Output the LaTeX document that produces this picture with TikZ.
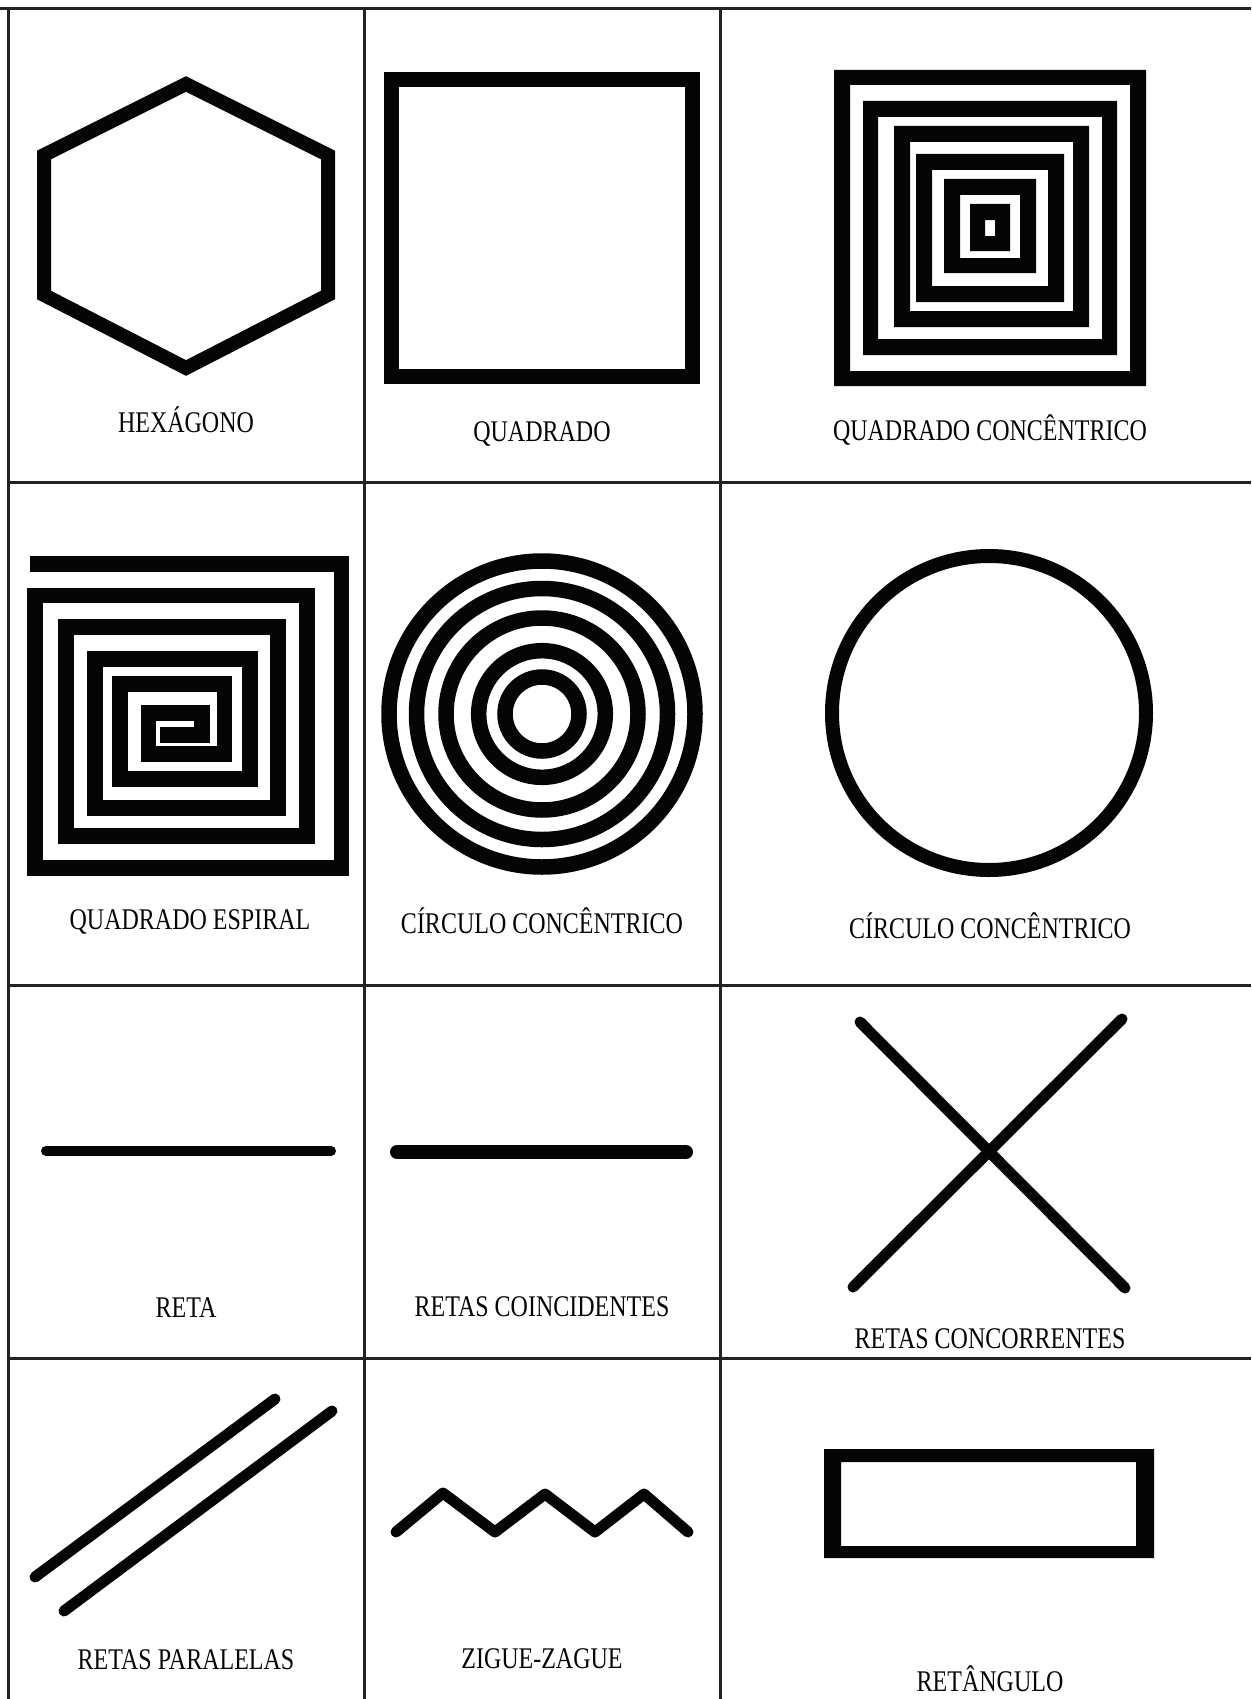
\documentclass[tikz,border=0pt]{standalone}
\usepackage{fontspec}
\setmainfont{Liberation Serif}[FakeStretch=0.8]
\usepackage{tikz}
\usetikzlibrary{positioning}
\definecolor{gfInk}{HTML}{050505}
\definecolor{gfRule}{HTML}{232323}
\tikzset{
  gf canvas/.style={fill=white},
  gf rule/.style={draw=gfRule, line width=3pt},
  gf shape/.style={draw=gfInk, line width=15pt, line join=miter},
  gf ring/.style={draw=gfInk, line width=15.5pt},
  gf line/.style={draw=gfInk, line width=11pt, line cap=round, line join=round},
  gf band/.style={fill=gfInk, even odd rule},
  gf label/.style={font=\fontsize{30}{32}\selectfont, text=gfInk, anchor=base, inner sep=0pt}
}

\begin{document}
\begin{tikzpicture}[x=1pt,y=-1pt]
  \path[gf canvas] (0,0) rectangle (1251,1699);
  \useasboundingbox (0,0) rectangle (1251,1699);

  % table rules
  \draw[gf rule] (0,9) -- (1251,9);
  \foreach \yy in {482,985,1358}
    \draw[gf rule] (8,\yy) -- (1251,\yy);
  \foreach \xx in {8,364,720}
    \draw[gf rule] (\xx,9) -- (\xx,1699);

  % row 1
  \draw[gf shape, line width=14pt] (186,84) -- (328,155) -- (328,295)
    -- (186,368) -- (44,295) -- (44,155) -- cycle;
  \node[gf label] (hexLbl) at (186,432) {HEXÁGONO};

  \draw[gf shape] (391,80) rectangle (692,376);
  \node[gf label] (sqLbl) at (542,441) {QUADRADO};

  \foreach \xa/\ya/\xb/\yb/\xc/\yc/\xd/\yd in {
      834/70/1146/386/850/85/1130/371,
      863/101/1117/355/878/117/1102/339,
      894/126/1089/327/910/142/1073/311,
      916/154/1064/302/932/170/1048/286,
      944/179/1036/273/960/195/1020/258,
      970/204/1010/251/985/220/995/236}
    \fill[gf band] (\xa,\ya) rectangle (\xb,\yb) (\xc,\yc) rectangle (\xd,\yd);
  \node[gf label] (sqConcLbl) at (990,440) {QUADRADO CONCÊNTRICO};

  % row 2
  \draw[gf shape, line width=15.5pt] (30,564) -- (341.5,564) -- (341.5,868)
    -- (35,868) -- (35,595.5) -- (307,595.5) -- (307,836) -- (66,836)
    -- (66,627) -- (278,627) -- (278,808) -- (95,808) -- (95,659)
    -- (250,659) -- (250,779) -- (120,779) -- (120,684) -- (224.5,684)
    -- (224.5,754) -- (148.5,754) -- (148.5,713) -- (202,713)
    -- (202,735) -- (160,735);
  \node[gf label] (spiralLbl) at (190,929) {QUADRADO ESPIRAL};

  \coordinate (ccMid) at (542,714);
  \foreach \rr in {153,125.5,96,63.3,37}
    \draw[gf ring] (ccMid) circle[radius=\rr];
  \node[gf label] (ccLbl) at (542,933) {CÍRCULO CONCÊNTRICO};

  \coordinate (cMid) at (989,713);
  \draw[gf ring, line width=14pt] (cMid) circle[radius=157];
  \node[gf label] (cLbl) at (990,938) {CÍRCULO CONCÊNTRICO};

  % row 3
  \draw[gf line, line width=10pt] (46,1151) -- (331,1151);
  \node[gf label] (retaLbl) at (186,1317) {RETA};

  \draw[gf line, line width=14pt] (397,1152) -- (686,1152);
  \node[gf label] (coincLbl) at (542,1316) {RETAS COINCIDENTES};

  \draw[gf line] (860,1022) -- (1125,1288);
  \draw[gf line] (1122,1019) -- (853,1287);
  \node[gf label] (concLbl) at (990,1348) {RETAS CONCORRENTES};

  % row 4
  \draw[gf line] (35,1577) -- (275,1399);
  \draw[gf line] (64,1611) -- (332,1411);
  \node[gf label] (parLbl) at (186,1669) {RETAS PARALELAS};

  \draw[gf line] (396,1532) -- (443,1493) -- (495,1532) -- (545,1494)
    -- (595,1532) -- (644,1494) -- (688,1532);
  \node[gf label] (zzLbl) at (542,1668) {ZIGUE-ZAGUE};

  \fill[gf band] (824,1449) rectangle (1154,1558) (841,1462) rectangle (1136,1546);
  \node[gf label] (rectLbl) at (990,1691) {RETÂNGULO};
\end{tikzpicture}
\end{document}
